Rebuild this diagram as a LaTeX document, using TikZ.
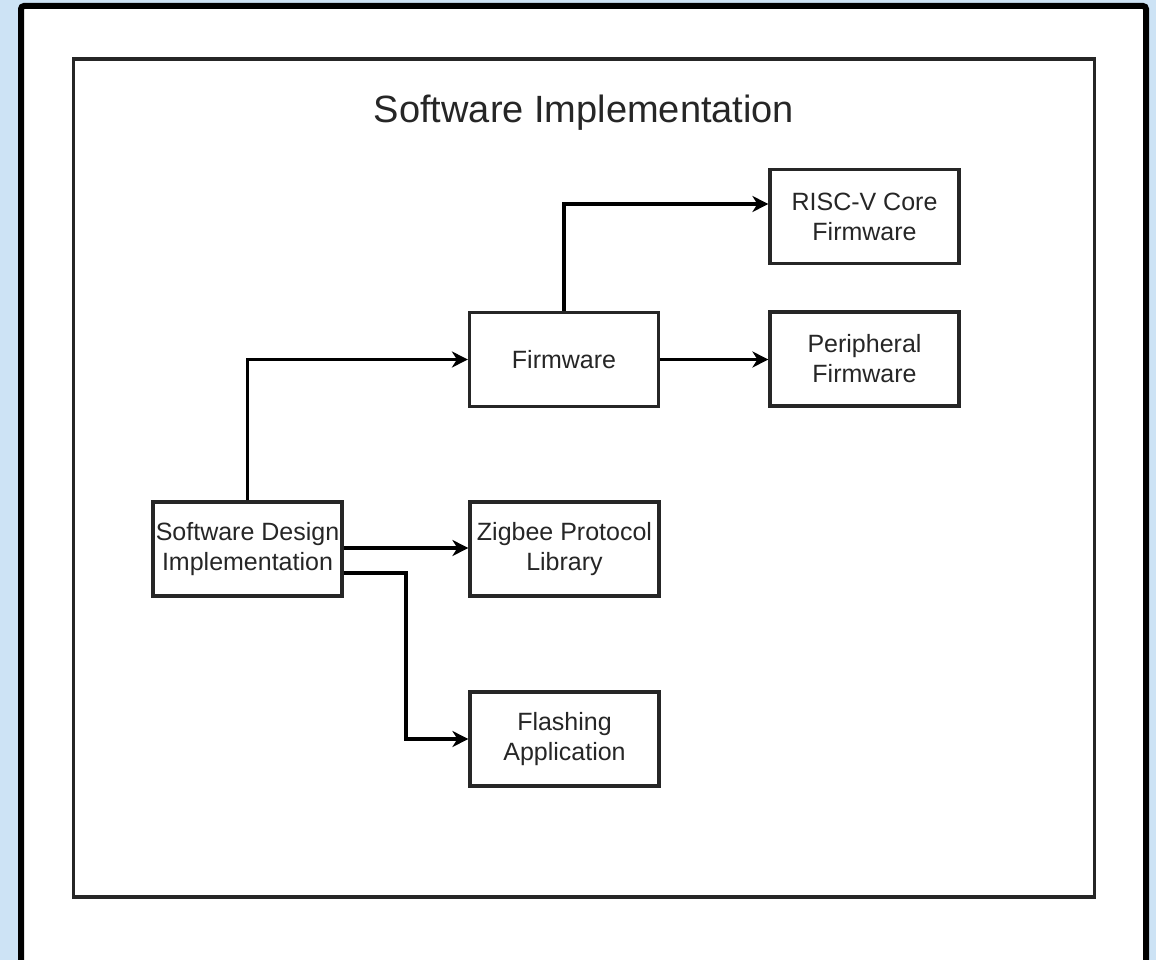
\documentclass[tikz,border=0pt]{standalone}
\usepackage{fontspec}
\setmainfont{Liberation Sans}
\usetikzlibrary{arrows.meta}
\definecolor{bgblue}{RGB}{205,227,245}
\begin{document}
\begin{tikzpicture}[x=1pt,y=-1pt,
  box/.style={draw=black!85, line width=3.2pt, fill=white, minimum width=189pt, minimum height=94pt, inner sep=0pt, align=center, font=\fontsize{25}{30}\selectfont, text=black!85},
  conn/.style={draw=black, line width=3.2pt, -{Stealth[length=16pt,width=16pt,inset=5pt]}}]
\useasboundingbox (0,0) rectangle (1156,960);
\fill[bgblue] (0,0) rectangle (1156,960);
\begin{scope}
\clip (0,0) rectangle (1156,960);
\draw[line width=6pt, fill=white, rounded corners=3pt] (21,6) rectangle (1146,975);
\end{scope}
\draw[line width=3.2pt, draw=black!85] (73.5,59) rectangle (1094.5,897);
\node[font=\fontsize{38}{44}\selectfont, text=black!85] (title) at (584,113) {Software Implementation};
\node[box] (sdi) at (247.5,549) {Software Design\\Implementation};
\node[box] (fw) at (564,359.5) {Firmware};
\node[box] (risc) at (864.5,216.5) {RISC-V Core\\Firmware};
\node[box] (per) at (864.5,359) {Peripheral\\Firmware};
\node[box] (zig) at (564.5,549) {Zigbee Protocol\\Library};
\node[box] (flash) at (564.5,739) {Flashing\\Application};
\draw[conn] (sdi.north) |- (fw.west);
\draw[conn] (fw.north) |- (risc.west |- 0,204);
\draw[conn] (fw.east) -- (per.west |- fw.east);
\draw[conn] (sdi.east |- 0,548) -- (zig.west |- 0,548);
\coordinate (bend) at (406,573);
\draw[conn] (sdi.east |- bend) -- (bend) |- (flash.west);
\end{tikzpicture}
\end{document}
